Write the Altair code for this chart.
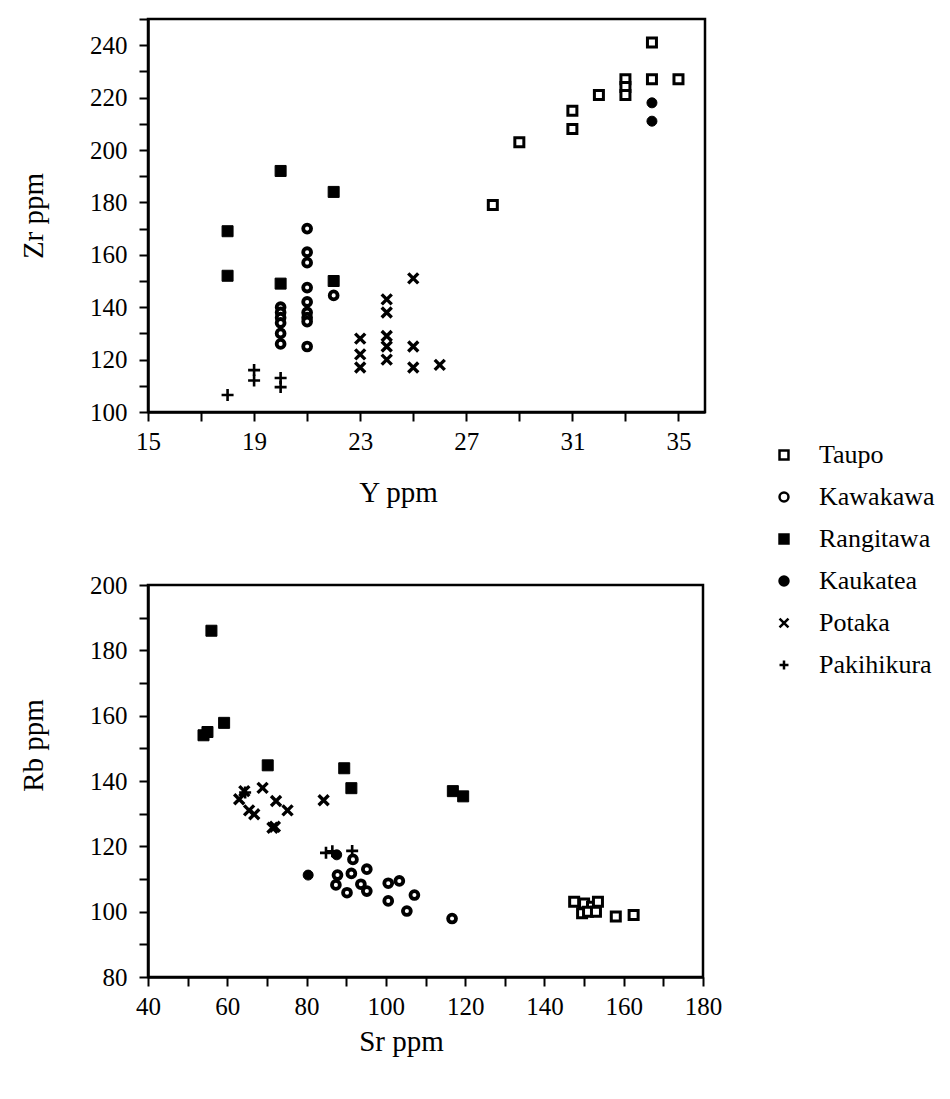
import altair as alt
import pandas as pd

groups = ["Taupo", "Kawakawa", "Rangitawa", "Kaukatea", "Potaka", "Pakihikura"]

# ---- Top panel: Y ppm vs Zr ppm ----
top_taupo_y = [28, 29, 31, 31, 32, 33, 33, 33, 34, 34, 35]
top_taupo_zr = [179, 203, 215, 208, 221, 227, 224, 221, 241, 227, 227]
top_kawakawa_y = [20, 20, 20, 20, 20, 20, 21, 21, 21, 21, 21, 21, 21, 21, 21, 22]
top_kawakawa_zr = [140, 138, 136, 134, 130, 126, 170, 161, 157, 147.5, 142, 138, 136, 134.5, 125, 144.5]
top_rangitawa_y = [18, 18, 20, 20, 22, 22]
top_rangitawa_zr = [169, 152, 192, 149, 184, 150]
top_kaukatea_y = [34, 34]
top_kaukatea_zr = [218, 211]
top_potaka_y = [23, 23, 23, 24, 24, 24, 24, 24, 25, 25, 25, 26]
top_potaka_zr = [128, 122, 117, 143, 138, 129, 125, 120, 151, 125, 117, 118]
top_pakihikura_y = [18, 19, 19, 20, 20]
top_pakihikura_zr = [106.5, 116, 112, 113, 109.5]

# ---- Bottom panel: Sr ppm vs Rb ppm ----
bot_taupo_sr = [147.5, 150, 152, 153.5, 149.5, 151, 153, 158, 162.5]
bot_taupo_rb = [103, 102.5, 101.5, 103, 99.5, 100, 100, 98.5, 99]
bot_kawakawa_sr = [91.7, 87.8, 91.3, 87.4, 90.2, 95.2, 93.7, 95.2, 100.6, 103.4, 100.6, 107.2, 105.3, 116.7]
bot_kawakawa_rb = [116, 111.2, 111.7, 108.2, 105.8, 113, 108.4, 106.3, 108.7, 109.4, 103.3, 105.1, 100.2, 97.9]
bot_rangitawa_sr = [54, 55, 56, 59.2, 70.2, 89.5, 91.3, 116.9, 119.5]
bot_rangitawa_rb = [154, 155, 186, 157.8, 144.8, 143.9, 137.8, 136.9, 135.3]
bot_kaukatea_sr = [80.4, 87.6]
bot_kaukatea_rb = [111.2, 117.4]
bot_potaka_sr = [64.3, 63, 66.8, 68.9, 72.3, 75.2, 71.4, 84.3, 65.5, 72]
bot_potaka_rb = [136.9, 134.4, 129.8, 137.9, 133.9, 131, 125.7, 134.1, 131, 126]
bot_pakihikura_sr = [84.9, 86.5, 91.5, 64.5]
bot_pakihikura_rb = [118, 118.5, 118.6, 136.5]

X_PATH = "M-1,-1L1,1M-1,1L1,-1"
PLUS_PATH = "M-1,0L1,0M0,-1L0,1"

shape_range = ["square", "circle", "square", "circle", X_PATH, PLUS_PATH]
fill_range = ["white", "white", "black", "black", "transparent", "transparent"]
stroke_range = ["black"] * 6
# marker size and stroke width for each group (same order as groups)
marker_size = [81, 62, 121, 100, 100, 144]
marker_sw = [3, 3.8, 1, 1, 3.4, 2.6]


def frame(xs_list, ys_list, xname, yname):
    rows = []
    for g, xs, ys in zip(groups, xs_list, ys_list):
        for a, b in zip(xs, ys):
            rows.append({xname: a, yname: b, "group": g})
    return pd.DataFrame(rows)


df_top = frame(
    [top_taupo_y, top_kawakawa_y, top_rangitawa_y, top_kaukatea_y, top_potaka_y, top_pakihikura_y],
    [top_taupo_zr, top_kawakawa_zr, top_rangitawa_zr, top_kaukatea_zr, top_potaka_zr, top_pakihikura_zr],
    "Y", "Zr",
)
df_bot = frame(
    [bot_taupo_sr, bot_kawakawa_sr, bot_rangitawa_sr, bot_kaukatea_sr, bot_potaka_sr, bot_pakihikura_sr],
    [bot_taupo_rb, bot_kawakawa_rb, bot_rangitawa_rb, bot_kaukatea_rb, bot_potaka_rb, bot_pakihikura_rb],
    "Sr", "Rb",
)

FONT = "Liberation Serif"

legend = alt.Legend(
    title=None,
    orient="none",
    legendX=623,
    legendY=423,
    labelFont=FONT,
    labelFontSize=26,
    labelColor="black",
    symbolStrokeColor="black",
    symbolStrokeWidth=2.5,
    symbolSize=80,
    rowPadding=16,
    labelOffset=22,
)


def panel(df, x_enc, y_enc, width, height):
    layers = []
    for g, sz, sw in zip(groups, marker_size, marker_sw):
        layers.append(
            alt.Chart(df)
            .transform_filter(alt.datum.group == g)
            .mark_point(size=sz, strokeWidth=sw, opacity=1)
            .encode(
                x=x_enc,
                y=y_enc,
                shape=alt.Shape("group:N", scale=alt.Scale(domain=groups, range=shape_range), legend=legend),
                fill=alt.Fill("group:N", scale=alt.Scale(domain=groups, range=fill_range), legend=legend),
                stroke=alt.Stroke("group:N", scale=alt.Scale(domain=groups, range=stroke_range), legend=legend),
            )
        )
    return alt.layer(*layers).properties(width=width, height=height)


top = panel(
    df_top,
    alt.X(
        "Y:Q",
        title="Y  ppm",
        scale=alt.Scale(domain=[15, 36], nice=False, zero=False),
        axis=alt.Axis(
            values=list(range(15, 36, 2)),
            labelExpr="(datum.value - 15) % 4 == 0 ? datum.label : ''",
            labelPadding=8,
            titleX=250,
            titleY=80,
        ),
    ),
    alt.Y(
        "Zr:Q",
        title="Zr  ppm",
        scale=alt.Scale(domain=[100, 250], nice=False, zero=False),
        axis=alt.Axis(
            values=list(range(100, 251, 10)),
            labelExpr="(datum.value % 20 == 0 && datum.value <= 240) ? datum.label : ''",
            labelPadding=12,
            titleX=-115,
        ),
    ),
    557,
    393,
)

bottom = panel(
    df_bot,
    alt.X(
        "Sr:Q",
        title="Sr  ppm",
        scale=alt.Scale(domain=[40, 180], nice=False, zero=False),
        axis=alt.Axis(
            values=list(range(40, 181, 10)),
            labelExpr="datum.value % 20 == 0 ? datum.label : ''",
            labelPadding=8,
            titleX=253,
            titleY=64,
        ),
    ),
    alt.Y(
        "Rb:Q",
        title="Rb  ppm",
        scale=alt.Scale(domain=[80, 200], nice=False, zero=False),
        axis=alt.Axis(
            values=list(range(80, 201, 10)),
            labelExpr="datum.value % 20 == 0 ? datum.label : ''",
            labelPadding=12,
            titleX=-115,
            titleY=160,
        ),
    ),
    555,
    392,
)

chart = (
    alt.vconcat(top, bottom, spacing=62)
    .properties(padding={"left": 9, "top": 8, "right": 2, "bottom": 5}, background="white")
    .configure_view(stroke="black", strokeWidth=2.5)
    .configure_axis(
        grid=False,
        labelFont=FONT,
        labelFontSize=25,
        labelColor="black",
        titleFont=FONT,
        titleFontSize=29,
        titleFontWeight="normal",
        titleColor="black",
        titleBaseline="middle",
        domainColor="black",
        domainWidth=2.5,
        tickColor="black",
        tickWidth=2,
        tickSize=9,
        labelFlush=False,
    )
)

chart.save("out.html", embed_options={"renderer": "svg", "actions": False})
